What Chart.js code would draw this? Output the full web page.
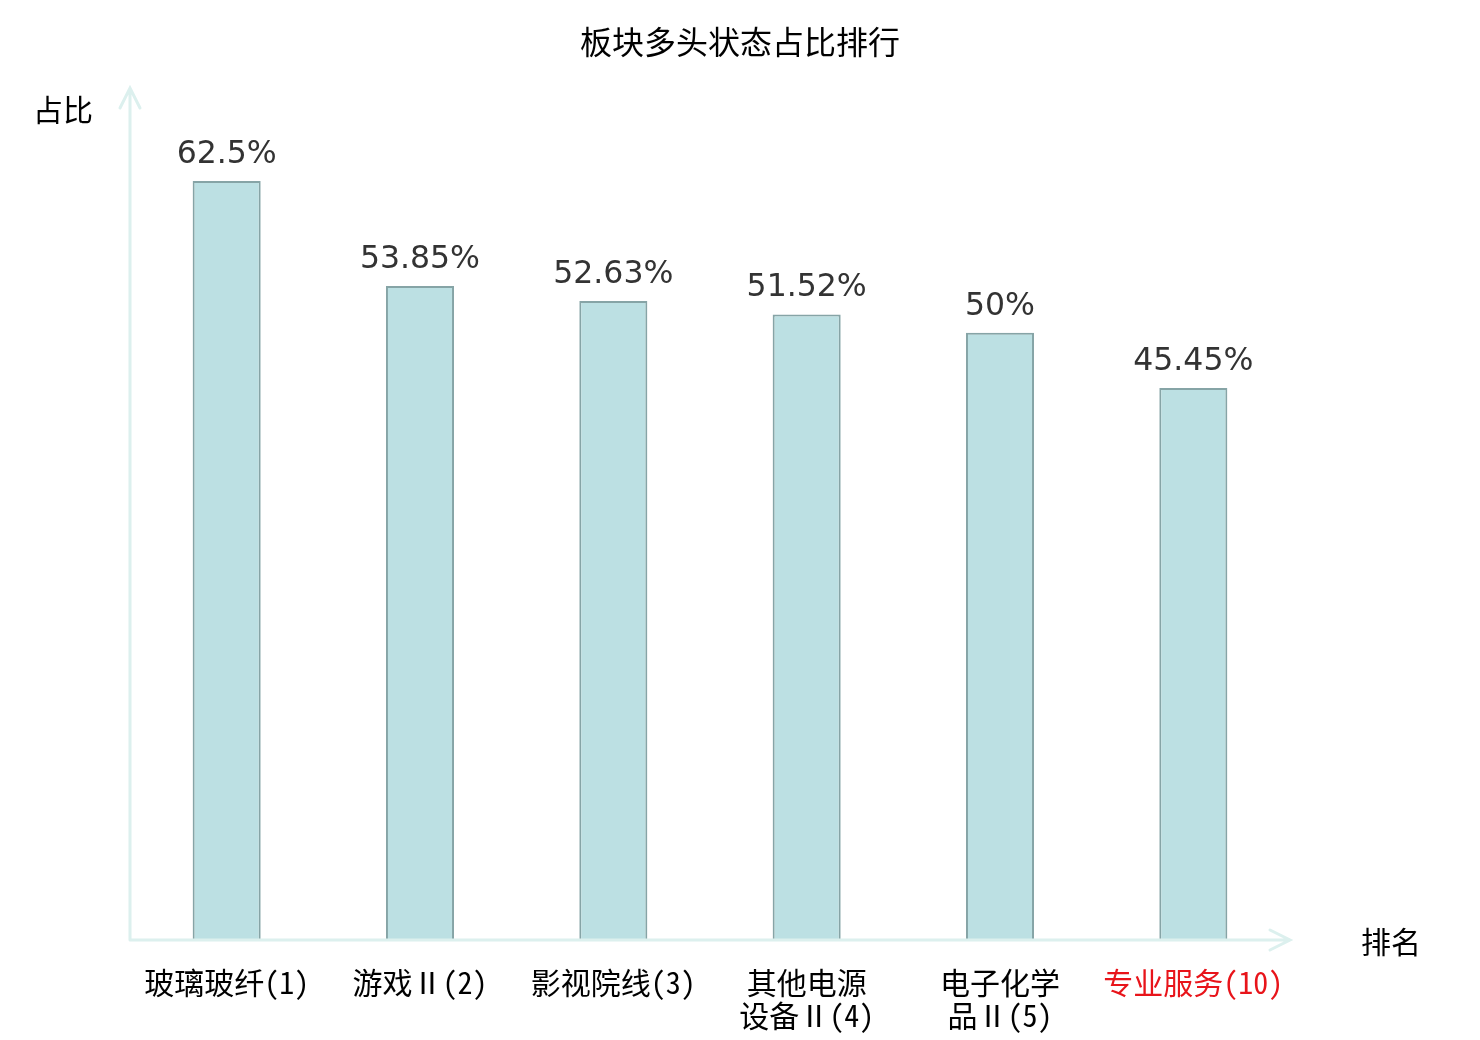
<!DOCTYPE html>
<html>
<head>
<meta charset="utf-8">
<script src="https://cdn.jsdelivr.net/npm/chart.js@4"></script>
<style>
    body { margin: 0; background: #fff; }
</style>
</head>
<body>
<canvas id="rankChart" width="1480" height="1040"></canvas>
<script>
// data
const categories = [['玻璃玻纤(1)'], ['游戏Ⅱ(2)'], ['影视院线(3)'], ['其他电源', '设备Ⅱ(4)'], ['电子化学', '品Ⅱ(5)'], ['专业服务(10)']];
const shares = [62.5, 53.85, 52.63, 51.52, 50, 45.45];
const shareLabels = ['62.5%', '53.85%', '52.63%', '51.52%', '50%', '45.45%'];
const highlightIndex = 5;
const chartTitle = '板块多头状态占比排行';

const CJK = '"Noto Sans CJK SC", "Noto Sans", sans-serif';
const TICK_FONT = '"Noto Sans Mono CJK SC", "Noto Sans CJK SC", sans-serif';
const AXIS_COLOR = '#dcf0ee';

// title, axis lines with arrow heads, axis names and value labels
const decorPlugin = {
    id: 'decor',
    afterDatasetsDraw(chart) {
        const { ctx, chartArea } = chart;
        const { left, right, top, bottom } = chartArea;
        ctx.save();

        ctx.fillStyle = '#000';
        ctx.font = '32px ' + CJK;
        ctx.textAlign = 'center';
        ctx.textBaseline = 'middle';
        ctx.fillText(chartTitle, chart.width / 2, 42);

        ctx.strokeStyle = AXIS_COLOR;
        ctx.lineWidth = 3;
        ctx.lineCap = 'round';
        ctx.beginPath();
        ctx.moveTo(left, bottom);
        ctx.lineTo(left, top - 2);
        ctx.moveTo(left - 10, top + 18);
        ctx.lineTo(left, top - 2);
        ctx.lineTo(left + 10, top + 18);
        ctx.moveTo(left, bottom);
        ctx.lineTo(right, bottom);
        ctx.moveTo(right - 20, bottom - 10);
        ctx.lineTo(right, bottom);
        ctx.lineTo(right - 20, bottom + 10);
        ctx.stroke();

        ctx.fillStyle = '#000';
        ctx.font = '30px ' + CJK;
        ctx.textBaseline = 'middle';
        ctx.textAlign = 'right';
        ctx.fillText('占比', left - 37, top + 20);
        ctx.textAlign = 'left';
        ctx.fillText('排名', right + 71, bottom + 2);

        const meta = chart.getDatasetMeta(0);
        ctx.fillStyle = '#333';
        ctx.font = '31.5px "DejaVu Sans", sans-serif';
        ctx.textAlign = 'center';
        ctx.textBaseline = 'alphabetic';
        meta.data.forEach((bar, i) => {
            ctx.fillText(shareLabels[i], bar.x, bar.y - 18);
        });
        ctx.restore();
    }
};

const ctx = document.getElementById('rankChart').getContext('2d');
window.rankChart = new Chart(ctx, {
    type: 'bar',
    data: {
        labels: categories,
        datasets: [{
            label: '占比',
            data: shares,
            backgroundColor: '#bce0e3',
            borderColor: '#86a4a6',
            borderWidth: 2,
            barPercentage: 0.352,
            categoryPercentage: 1
        }]
    },
    options: {
        responsive: false,
        animation: false,
        devicePixelRatio: 1,
        layout: {
            padding: { left: 130, right: 190, top: 90, bottom: 0 }
        },
        scales: {
            x: {
                grid: { display: false },
                border: { display: false },
                ticks: {
                    padding: 19,
                    font: { family: TICK_FONT, size: 30, lineHeight: 1.07 },
                    color: (c) => c.index === highlightIndex ? '#e8141a' : '#000',
                    maxRotation: 0,
                    autoSkip: false
                },
                afterFit(scale) {
                    scale.height = 100;
                }
            },
            y: {
                display: false,
                min: 0,
                max: 70
            }
        },
        plugins: {
            legend: { display: false },
            tooltip: { enabled: false },
            title: { display: false }
        }
    },
    plugins: [decorPlugin]
});
</script>
</body>
</html>
